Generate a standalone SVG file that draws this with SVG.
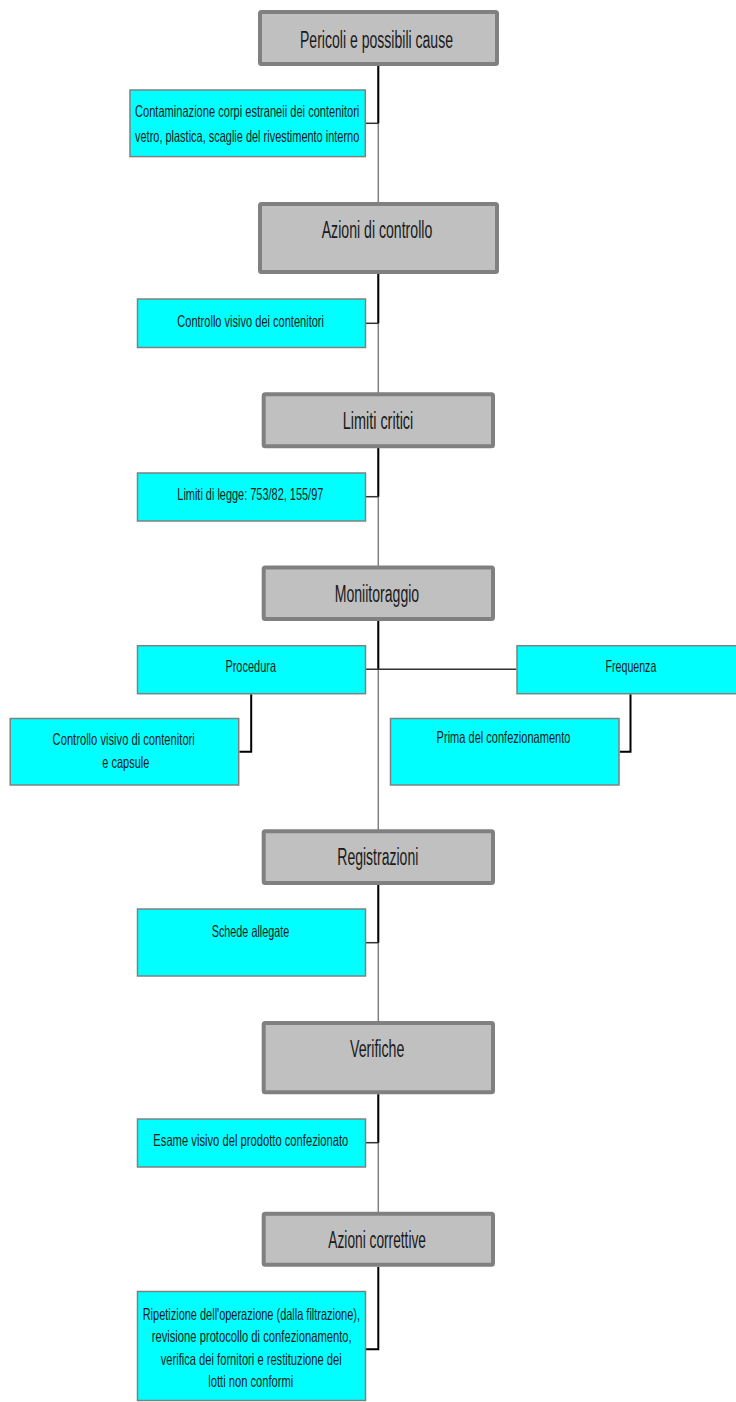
<svg xmlns="http://www.w3.org/2000/svg" width="736" height="1402" viewBox="0 0 736 1402">
<style>
.hdr{fill:#c0c0c0;stroke:#808080;stroke-width:4}
.box{fill:#00ffff;stroke:#808080;stroke-width:1.5}
.ht{font-family:"Liberation Sans",Arial,sans-serif;font-size:23.5px;fill:#1a1a1a}
.bt{font-family:"Liberation Sans",Arial,sans-serif;font-size:16.5px;fill:#1a1a1a}
.spine{stroke:#808080;stroke-width:1.5;fill:none}
.link{stroke:#000;stroke-width:2;fill:none}
.stub{stroke:#333;stroke-width:1.5;fill:none}
</style>
<rect width="736" height="1402" fill="#fff"/>
<g id="connectors">
<line class="spine" x1="378.3" y1="66" x2="378.3" y2="1212"/>
<line class="link" x1="378.3" y1="66" x2="378.3" y2="123.3"/>
<line class="stub" x1="366" y1="123.3" x2="378.3" y2="123.3"/>
<line class="link" x1="378.3" y1="274" x2="378.3" y2="323.3"/>
<line class="stub" x1="366" y1="323.3" x2="378.3" y2="323.3"/>
<line class="link" x1="378.3" y1="448" x2="378.3" y2="496.7"/>
<line class="stub" x1="366" y1="496.7" x2="378.3" y2="496.7"/>
<line class="link" x1="378.3" y1="621" x2="378.3" y2="669.3"/>
<line class="stub" x1="366" y1="669.3" x2="516.4" y2="669.3"/>
<polyline class="link" points="251.2,694.3 251.2,751.7 239.4,751.7"/>
<polyline class="link" points="630.5,694.3 630.5,751.7 619.7,751.7"/>
<line class="link" x1="378.3" y1="885" x2="378.3" y2="942.7"/>
<line class="stub" x1="366" y1="942.7" x2="378.3" y2="942.7"/>
<line class="link" x1="378.3" y1="1094.3" x2="378.3" y2="1142.7"/>
<line class="stub" x1="366" y1="1142.7" x2="378.3" y2="1142.7"/>
<polyline class="link" points="378.3,1266.7 378.3,1349.3 366,1349.3"/>
</g>
<g id="pericoli">
<rect class="hdr" x="260" y="12" width="237" height="52" rx="1.5"/>
<text class="ht" x="300" y="47.5" textLength="153" lengthAdjust="spacingAndGlyphs">Pericoli e possibili cause</text>
</g>
<g id="contaminazione">
<rect class="box" x="130" y="90" width="235.3" height="66.6"/>
<text class="bt" x="135" y="116.7" textLength="224.3" lengthAdjust="spacingAndGlyphs">Contaminazione corpi estraneii dei contenitori</text>
<text class="bt" x="135" y="141.7" textLength="224.3" lengthAdjust="spacingAndGlyphs">vetro, plastica, scaglie del rivestimento interno</text>
</g>
<g id="azioni-controllo">
<rect class="hdr" x="260" y="204" width="237" height="68" rx="1.5"/>
<text class="ht" x="321.7" y="238.3" textLength="110.6" lengthAdjust="spacingAndGlyphs">Azioni di controllo</text>
</g>
<g id="controllo-visivo">
<rect class="box" x="137.5" y="299" width="228" height="48.5"/>
<text class="bt" x="177.3" y="326.7" textLength="146.7" lengthAdjust="spacingAndGlyphs">Controllo visivo dei contenitori</text>
</g>
<g id="limiti-critici">
<rect class="hdr" x="263.7" y="394.3" width="229.3" height="52" rx="1.5"/>
<text class="ht" x="342.7" y="429" textLength="70.6" lengthAdjust="spacingAndGlyphs">Limiti critici</text>
</g>
<g id="limiti-legge">
<rect class="box" x="137.5" y="473" width="228" height="48"/>
<text class="bt" x="177.3" y="500" textLength="146" lengthAdjust="spacingAndGlyphs">Limiti di legge: 753/82, 155/97</text>
</g>
<g id="monitoraggio">
<rect class="hdr" x="263.7" y="567.5" width="229.3" height="51.5" rx="1.5"/>
<text class="ht" x="334.7" y="601.7" textLength="84.5" lengthAdjust="spacingAndGlyphs">Moniitoraggio</text>
</g>
<g id="procedura">
<rect class="box" x="137.5" y="645.7" width="228" height="48"/>
<text class="bt" x="225.4" y="671.7" textLength="50.6" lengthAdjust="spacingAndGlyphs">Procedura</text>
</g>
<g id="frequenza">
<rect class="box" x="517" y="645.7" width="228" height="48"/>
<text class="bt" x="605.6" y="671.7" textLength="50.7" lengthAdjust="spacingAndGlyphs">Frequenza</text>
</g>
<g id="controllo-capsule">
<rect class="box" x="10.2" y="718.5" width="228.5" height="66.5"/>
<text class="bt" x="52.6" y="745" textLength="142.2" lengthAdjust="spacingAndGlyphs">Controllo visivo di contenitori</text>
<text class="bt" x="102.3" y="768.3" textLength="47" lengthAdjust="spacingAndGlyphs">e capsule</text>
</g>
<g id="prima-confezionamento">
<rect class="box" x="390.5" y="718.5" width="228.5" height="66.5"/>
<text class="bt" x="436.6" y="743.3" textLength="133.8" lengthAdjust="spacingAndGlyphs">Prima del confezionamento</text>
</g>
<g id="registrazioni">
<rect class="hdr" x="263.7" y="831.3" width="229.3" height="51.7" rx="1.5"/>
<text class="ht" x="337.3" y="865" textLength="81" lengthAdjust="spacingAndGlyphs">Registrazioni</text>
</g>
<g id="schede">
<rect class="box" x="137.5" y="909" width="228" height="67"/>
<text class="bt" x="211.7" y="936.7" textLength="77.6" lengthAdjust="spacingAndGlyphs">Schede allegate</text>
</g>
<g id="verifiche">
<rect class="hdr" x="263.7" y="1023" width="229.3" height="69.3" rx="1.5"/>
<text class="ht" x="350" y="1056.7" textLength="54.3" lengthAdjust="spacingAndGlyphs">Verifiche</text>
</g>
<g id="esame">
<rect class="box" x="137.5" y="1119" width="228" height="48"/>
<text class="bt" x="153.3" y="1146" textLength="195" lengthAdjust="spacingAndGlyphs">Esame visivo del prodotto confezionato</text>
</g>
<g id="azioni-correttive">
<rect class="hdr" x="263.7" y="1213.7" width="229.3" height="51" rx="1.5"/>
<text class="ht" x="328.3" y="1248.3" textLength="97.7" lengthAdjust="spacingAndGlyphs">Azioni correttive</text>
</g>
<g id="ripetizione">
<rect class="box" x="137.5" y="1291.5" width="228" height="109"/>
<text class="bt" x="142.7" y="1320" textLength="217.3" lengthAdjust="spacingAndGlyphs">Ripetizione dell'operazione (dalla filtrazione),</text>
<text class="bt" x="151.7" y="1341.7" textLength="200" lengthAdjust="spacingAndGlyphs">revisione protocollo di confezionamento,</text>
<text class="bt" x="160.7" y="1365" textLength="181" lengthAdjust="spacingAndGlyphs">verifica dei fornitori e restituzione dei</text>
<text class="bt" x="208.3" y="1386.7" textLength="85" lengthAdjust="spacingAndGlyphs">lotti non conformi</text>
</g>
</svg>
